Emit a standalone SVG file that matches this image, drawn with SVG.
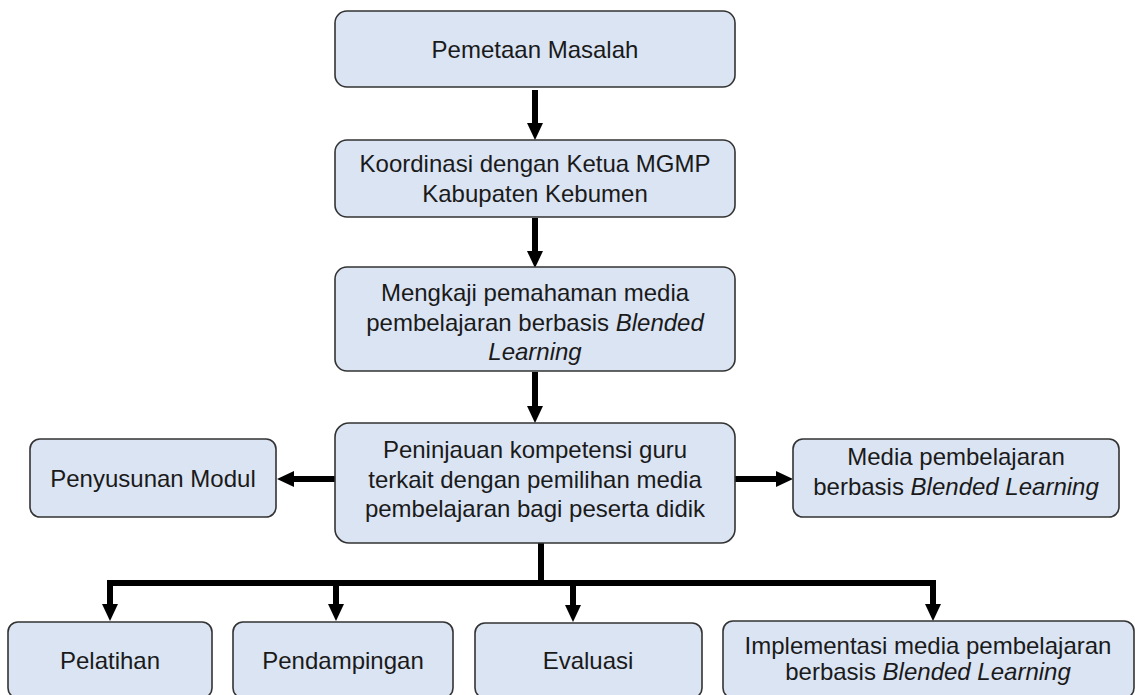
<svg xmlns="http://www.w3.org/2000/svg" width="1135" height="695" viewBox="0 0 1135 695">
<style>
.box{fill:#dbe4f3;stroke:#333;stroke-width:1.6}
.t{font-family:"Liberation Sans",Arial,sans-serif;font-size:24px;fill:#1a1a1a;text-anchor:middle}
.i{font-style:italic}
.c{fill:none;stroke:#000;stroke-width:6;stroke-linejoin:miter}
</style>
<defs>
<marker id="ah" viewBox="0 0 17 16" refX="0" refY="8" markerWidth="17" markerHeight="16" markerUnits="userSpaceOnUse" orient="auto">
<path d="M0,0 L17,8 L0,16 Z" fill="#000"/>
</marker>
</defs>
<rect width="1135" height="695" fill="#fff"/>
<g id="connectors">
<path class="c" d="M535,90 V123" marker-end="url(#ah)"/>
<path class="c" d="M535,218 V251" marker-end="url(#ah)"/>
<path class="c" d="M535,372 V406" marker-end="url(#ah)"/>
<path class="c" d="M335,479 H294" marker-end="url(#ah)"/>
<path class="c" d="M735,479 H776" marker-end="url(#ah)"/>
<path class="c" d="M541,543 V583"/>
<path class="c" d="M110,604 V583 H933 V604"/>
<path class="c" d="M110,583 V604" marker-end="url(#ah)"/>
<path class="c" d="M336,583 V604" marker-end="url(#ah)"/>
<path class="c" d="M573,583 V605" marker-end="url(#ah)"/>
<path class="c" d="M933,583 V604" marker-end="url(#ah)"/>
</g>
<g id="n1">
<rect class="box" x="335" y="11" width="400" height="76" rx="12"/>
<text class="t" x="535" y="58">Pemetaan Masalah</text>
</g>
<g id="n2">
<rect class="box" x="335" y="140" width="400" height="77" rx="12"/>
<text class="t" x="535" y="172">Koordinasi dengan Ketua MGMP</text>
<text class="t" x="535" y="202">Kabupaten Kebumen</text>
</g>
<g id="n3">
<rect class="box" x="335" y="267" width="400" height="104" rx="12"/>
<text class="t" x="535" y="301">Mengkaji pemahaman media</text>
<text class="t" x="535" y="331">pembelajaran berbasis <tspan class="i">Blended</tspan></text>
<text class="t i" x="535" y="360">Learning</text>
</g>
<g id="n4">
<rect class="box" x="335" y="423" width="400" height="120" rx="14"/>
<text class="t" x="535" y="458">Peninjauan kompetensi guru</text>
<text class="t" x="535" y="488">terkait dengan pemilihan media</text>
<text class="t" x="535" y="517">pembelajaran bagi peserta didik</text>
</g>
<g id="n5">
<rect class="box" x="30" y="439" width="246" height="78" rx="10"/>
<text class="t" x="153" y="487">Penyusunan Modul</text>
</g>
<g id="n6">
<rect class="box" x="793" y="439" width="326" height="78" rx="10"/>
<text class="t" x="956" y="465">Media pembelajaran</text>
<text class="t" x="956" y="495">berbasis <tspan class="i">Blended Learning</tspan></text>
</g>
<g id="n7">
<rect class="box" x="8" y="622" width="204" height="76" rx="10"/>
<text class="t" x="110" y="669">Pelatihan</text>
</g>
<g id="n8">
<rect class="box" x="233" y="622" width="220" height="76" rx="10"/>
<text class="t" x="343" y="669">Pendampingan</text>
</g>
<g id="n9">
<rect class="box" x="475" y="623" width="227" height="75" rx="10"/>
<text class="t" x="588" y="669">Evaluasi</text>
</g>
<g id="n10">
<rect class="box" x="723" y="621" width="411" height="77" rx="10"/>
<text class="t" x="928" y="654">Implementasi media pembelajaran</text>
<text class="t" x="928" y="680">berbasis <tspan class="i">Blended Learning</tspan></text>
</g>
</svg>
